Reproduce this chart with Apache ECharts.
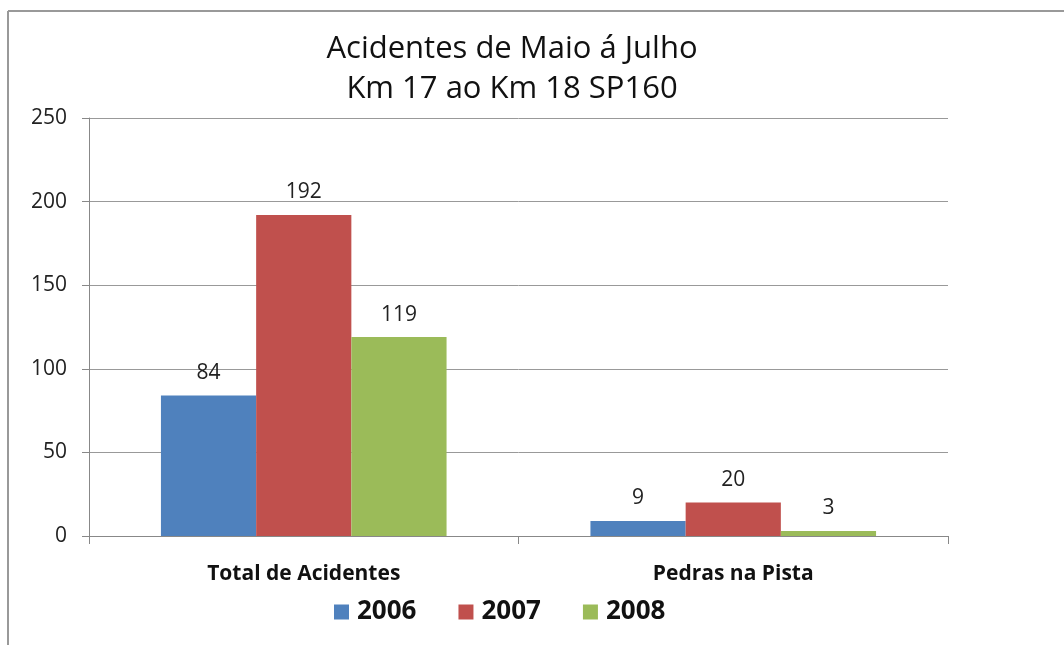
<!DOCTYPE html>
<html>
<head>
<meta charset="utf-8">
<script src="https://cdn.jsdelivr.net/npm/echarts@6/dist/echarts.min.js"></script>
<style>
  html, body { margin: 0; padding: 0; background: #fff; }
  #chart { width: 1064px; height: 645px; }
</style>
</head>
<body>
<div id="chart"></div>
<script>
const categories = ['Total de Acidentes', 'Pedras na Pista'];
const years = ['2006', '2007', '2008'];
const values2006 = [84, 9];
const values2007 = [192, 20];
const values2008 = [119, 3];
const yTicks = [0, 50, 100, 150, 200, 250];
const colors = ['#4F81BD', '#C0504D', '#9BBB59'];

const font = '"Open Sans", "Noto Sans", sans-serif';
const chart = echarts.init(document.getElementById('chart'));

function barSeries(name, data, color) {
    return {
        name: name,
        type: 'bar',
        data: data,
        barGap: '0%',
        barCategoryGap: '33.5%',
        itemStyle: {color: color},
        label: {
            show: true,
            position: 'top',
            distance: 12,
            color: '#222',
            fontSize: 21,
            fontFamily: font
        }
    };
}

chart.setOption({
    animation: false,
    title: {
        text: 'Acidentes de Maio á Julho\nKm 17 ao Km 18 SP160',
        left: 507,
        textAlign: 'center',
        top: 24,
        textStyle: {
            fontFamily: font,
            fontSize: 31,
            fontWeight: 'normal',
            color: '#111',
            lineHeight: 40
        }
    },
    legend: {
        bottom: 15,
        left: 329,
        itemWidth: 15,
        itemHeight: 15,
        itemGap: 42,
        icon: 'rect',
        textStyle: {fontFamily: font, fontSize: 26, fontWeight: 'bold', color: '#111', padding: [0, 0, 0, 3]},
        data: years
    },
    grid: {left: 89, right: 116, top: 118, bottom: 109},
    xAxis: {
        type: 'category',
        data: categories,
        axisLine: {lineStyle: {color: '#888', width: 1}},
        axisTick: {show: true, length: 8, lineStyle: {color: '#888'}},
        axisLabel: {
            margin: 28,
            fontFamily: font,
            fontSize: 21,
            fontWeight: 'bold',
            color: '#111'
        }
    },
    yAxis: {
        type: 'value',
        min: yTicks[0],
        max: yTicks[yTicks.length - 1],
        interval: 50,
        axisLine: {show: true, lineStyle: {color: '#888', width: 1}},
        axisTick: {show: true, length: 7, lineStyle: {color: '#888'}},
        splitLine: {lineStyle: {color: '#999', width: 1}},
        axisLabel: {
            margin: 22,
            fontFamily: font,
            fontSize: 21,
            color: '#222'
        }
    },
    graphic: [
        {type: 'line', shape: {x1: 8, y1: 11, x2: 1064, y2: 11}, style: {stroke: '#999', lineWidth: 2}},
        {type: 'line', shape: {x1: 8, y1: 11, x2: 8, y2: 645}, style: {stroke: '#999', lineWidth: 2}}
    ],
    series: [
        barSeries(years[0], values2006, colors[0]),
        barSeries(years[1], values2007, colors[1]),
        barSeries(years[2], values2008, colors[2])
    ]
});
</script>
</body>
</html>
